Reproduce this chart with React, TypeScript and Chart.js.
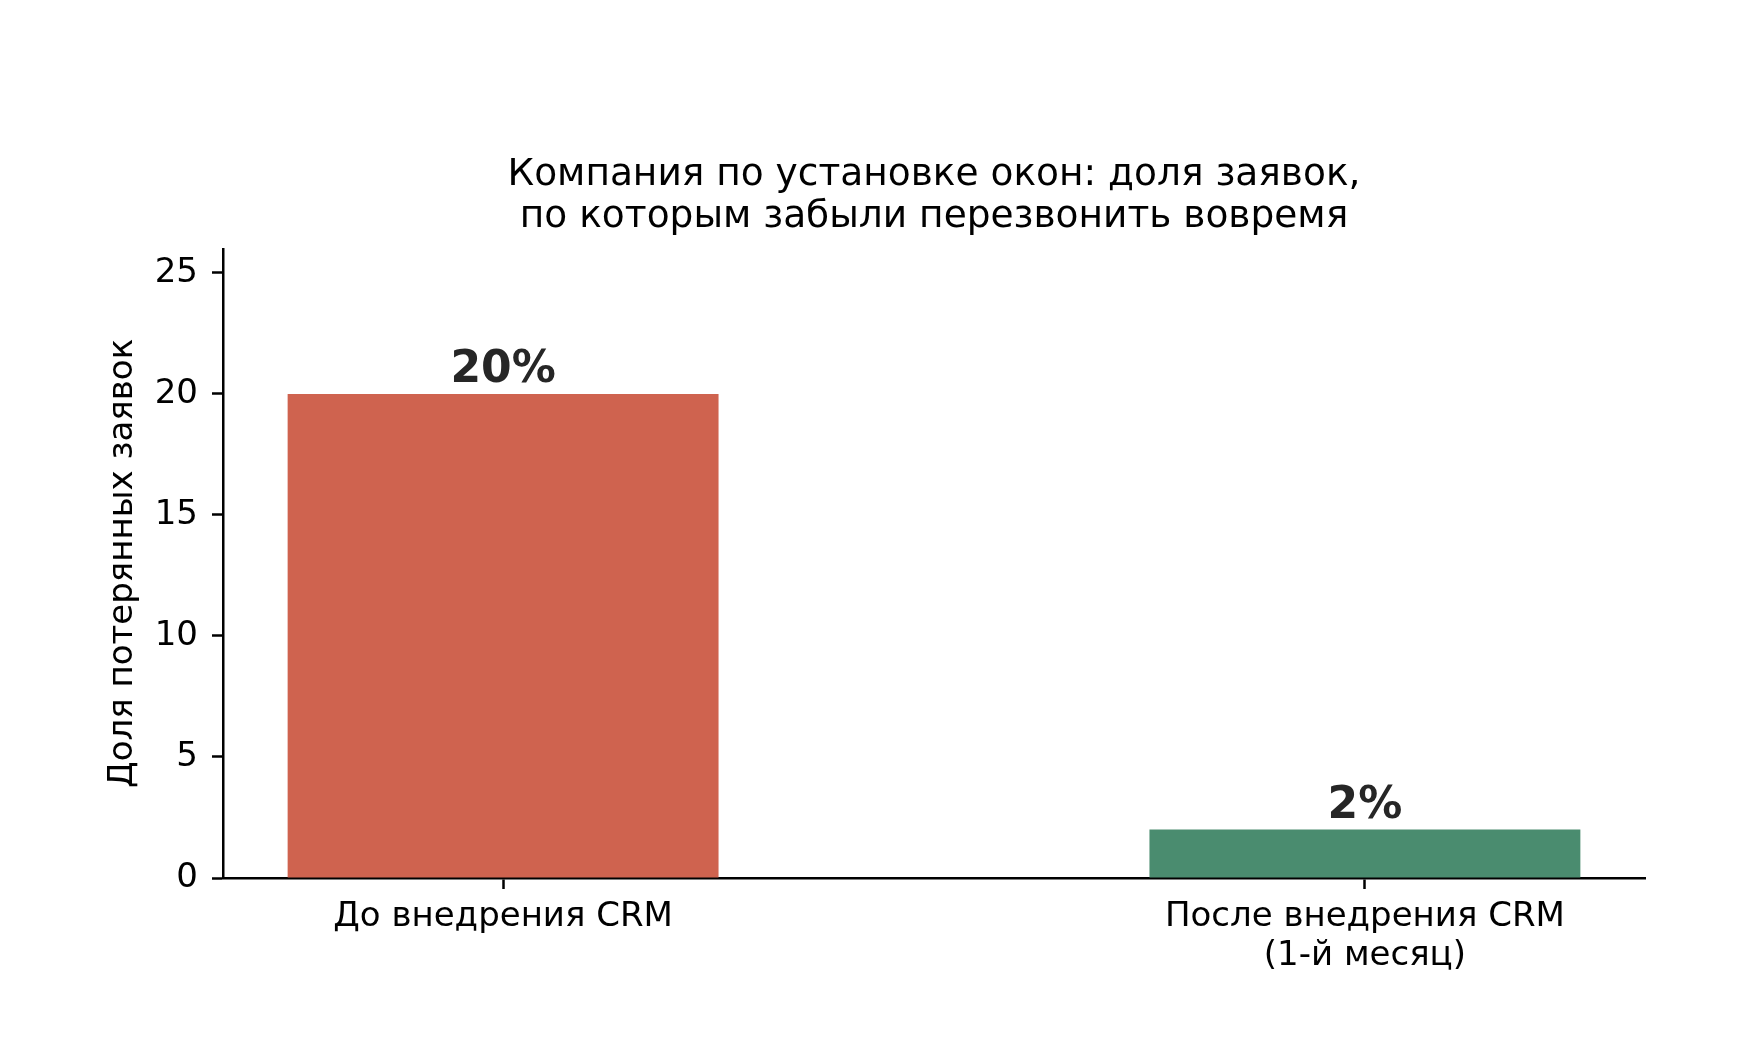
import { Chart, registerables } from 'chart.js'
import { useEffect, useRef } from 'react'

Chart.register(...registerables)

// данные с картинки
const categories: string[][] = [
	['До внедрения CRM'],
	['После внедрения CRM', '(1-й месяц)']
]
const lostShare = [20, 2]
const barColors = ['#cf634f', '#4a8c6f']
const yTicks = [0, 5, 10, 15, 20, 25]
const titleLines = [
	'Компания по установке окон: доля заявок,',
	'по которым забыли перезвонить вовремя'
]
const yTitle = 'Доля потерянных заявок'

const FONT = "'DejaVu Sans', sans-serif"

// подписи над столбцами
const barLabels = {
	id: 'barLabels',
	afterDatasetsDraw(chart: Chart) {
		const { ctx } = chart
		const meta = chart.getDatasetMeta(0)
		ctx.save()
		ctx.font = `bold 44px ${FONT}`
		ctx.fillStyle = '#262626'
		ctx.textAlign = 'center'
		ctx.textBaseline = 'alphabetic'
		meta.data.forEach((el: any, i: number) => {
			ctx.fillText(`${lostShare[i]}%`, el.x, el.y - 12)
		})
		ctx.restore()
	}
}

export default function App() {
	const canvasRef = useRef<HTMLCanvasElement | null>(null)

	useEffect(() => {
		if (!canvasRef.current) return
		const ctx = canvasRef.current.getContext('2d')
		if (!ctx) return

		const axisGrid = {
			offset: false,
			drawOnChartArea: false,
			drawTicks: true,
			tickLength: 11,
			tickColor: '#000',
			tickWidth: 2.5
		}

		const chart = new Chart(ctx, {
			type: 'bar',
			data: {
				datasets: [
					{
						data: lostShare.map((v, i) => ({ x: i, y: v })),
						backgroundColor: barColors,
						borderWidth: 0,
						barPercentage: 1,
						categoryPercentage: 0.5
					}
				]
			},
			options: {
				responsive: false,
				animation: false,
				devicePixelRatio: 1,
				layout: { padding: { top: 0, right: 99, bottom: 0, left: 0 } },
				scales: {
					x: {
						type: 'linear',
						min: -0.325,
						max: 1.325,
						offset: false,
						z: 1,
						grid: axisGrid,
						border: { color: '#000', width: 2.5 },
						afterBuildTicks: (scale: any) => {
							scale.ticks = categories.map((_, i) => ({ value: i }))
						},
						afterFit: (scale: any) => {
							scale.height = 170
						},
						ticks: {
							color: '#000',
							padding: 8,
							maxRotation: 0,
							autoSkip: false,
							font: { family: FONT, size: 34, lineHeight: 1.17 },
							callback: (value: any) => {
								const c = categories[Math.round(Number(value))]
								return c && c.length === 1 ? c[0] : c
							}
						}
					},
					y: {
						min: 0,
						max: 26,
						z: 1,
						grid: axisGrid,
						border: { color: '#000', width: 2.5 },
						afterBuildTicks: (scale: any) => {
							scale.ticks = yTicks.map((v) => ({ value: v }))
						},
						afterFit: (scale: any) => {
							scale.width = 223
						},
						ticks: {
							color: '#000',
							padding: 14,
							font: { family: FONT, size: 34 }
						},
						title: {
							display: true,
							text: yTitle,
							color: '#000',
							font: { family: FONT, size: 34, lineHeight: 1.2 },
							padding: { top: 103, bottom: 0 }
						}
					}
				},
				plugins: {
					legend: { display: false },
					tooltip: { enabled: false },
					title: {
						display: true,
						fullSize: false,
						text: titleLines,
						color: '#000',
						font: { family: FONT, size: 37.5, weight: 'normal', lineHeight: 1.13 },
						padding: { top: 154, bottom: 10 }
					}
				}
			},
			plugins: [barLabels]
		})

		return () => {
			chart.destroy()
		}
	}, [])

	return (
		<div
			style={{
				position: 'fixed',
				left: 0,
				top: 0,
				width: 1744,
				height: 1048,
				background: '#fff'
			}}>
			<canvas
				ref={canvasRef}
				width={1744}
				height={1048}
				style={{ width: 1744, height: 1048 }}
			/>
		</div>
	)
}
